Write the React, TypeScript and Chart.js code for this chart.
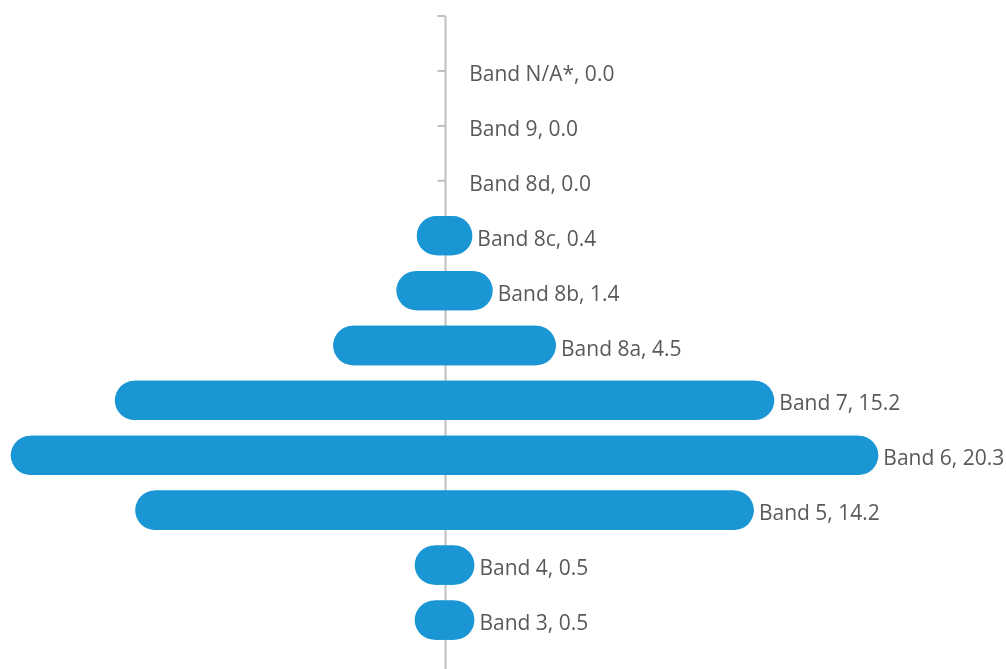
import React, { useEffect, useRef } from "react";
import { Chart, registerables } from "chart.js";

Chart.register(...registerables);

// Staff counts per pay band, listed top to bottom
const bands = [
  "Band N/A*",
  "Band 9",
  "Band 8d",
  "Band 8c",
  "Band 8b",
  "Band 8a",
  "Band 7",
  "Band 6",
  "Band 5",
  "Band 4",
  "Band 3",
];
const shares = [0.0, 0.0, 0.0, 0.4, 1.4, 4.5, 15.2, 20.3, 14.2, 0.5, 0.5];

const BAR_COLOR = "#1a96d4";
const AXIS_COLOR = "#bfbfbf";
const LABEL_COLOR = "#595959";
const LABEL_FONT = "21px 'Open Sans', sans-serif";

// Centre axis with tick marks at every band plus one above the top band
const centreAxis = {
  id: "centreAxis",
  beforeDatasetsDraw(chart: Chart) {
    const { ctx } = chart;
    const xs = chart.scales.x;
    const ys = chart.scales.y;
    const x0 = Math.round(xs.getPixelForValue(0)) + 0.5;
    const top = ys.getPixelForValue(-1);
    ctx.save();
    ctx.strokeStyle = AXIS_COLOR;
    ctx.lineWidth = 2;
    ctx.beginPath();
    ctx.moveTo(x0, top);
    ctx.lineTo(x0, chart.height);
    ctx.stroke();
    for (let i = -1; i < bands.length; i++) {
      const y = ys.getPixelForValue(i);
      ctx.beginPath();
      ctx.moveTo(x0 - 8, y);
      ctx.lineTo(x0, y);
      ctx.stroke();
    }
    ctx.restore();
  },
};

// Round-capped bars centred on zero, with "band, value" labels at their right end
const pillBars = {
  id: "pillBars",
  afterDatasetsDraw(chart: Chart) {
    const { ctx } = chart;
    const meta = chart.getDatasetMeta(0);
    ctx.save();
    meta.data.forEach((el: any, i: number) => {
      const { x, base, y, height } = el.getProps(["x", "base", "y", "height"], true);
      const left = Math.min(x, base);
      const right = Math.max(x, base);
      const cap = height / 2;
      if (shares[i] > 0) {
        ctx.strokeStyle = BAR_COLOR;
        ctx.lineWidth = height;
        ctx.lineCap = "round";
        ctx.beginPath();
        ctx.moveTo(left, y);
        ctx.lineTo(right, y);
        ctx.stroke();
      }
      ctx.fillStyle = LABEL_COLOR;
      ctx.font = LABEL_FONT;
      ctx.textAlign = "left";
      ctx.textBaseline = "alphabetic";
      ctx.fillText(`${bands[i]}, ${shares[i].toFixed(1)}`, right + cap + 5, y + 10);
    });
    ctx.restore();
  },
};

export default function App() {
  const canvasRef = useRef<HTMLCanvasElement | null>(null);

  useEffect(() => {
    if (!canvasRef.current) return;
    const chart = new Chart(canvasRef.current, {
      type: "bar",
      data: {
        labels: bands,
        datasets: [
          {
            data: shares.map((v) => [-v / 2, v / 2]),
            backgroundColor: BAR_COLOR,
            borderWidth: 0,
            barPercentage: 0.716,
            categoryPercentage: 1.0,
          },
        ],
      },
      options: {
        indexAxis: "y",
        animation: false,
        responsive: true,
        maintainAspectRatio: false,
        layout: { padding: { top: 43.5, bottom: 21.5, left: 0, right: 0 } },
        plugins: {
          legend: { display: false },
          tooltip: { enabled: false },
        },
        scales: {
          x: { type: "linear", min: -10.895, max: 13.76, display: false },
          y: { type: "category", display: false, offset: true },
        },
      },
      plugins: [centreAxis, pillBars],
    });
    return () => chart.destroy();
  }, []);

  return (
    <div style={{ position: "fixed", left: 0, top: 0, width: 1006, height: 669, background: "#ffffff" }}>
      <canvas ref={canvasRef} />
    </div>
  );
}
